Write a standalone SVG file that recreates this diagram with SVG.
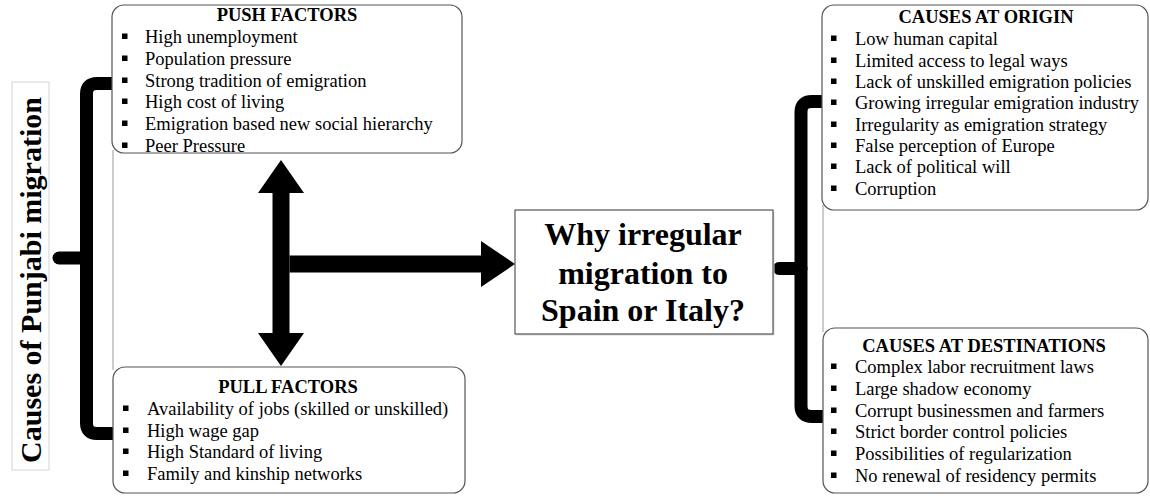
<svg xmlns="http://www.w3.org/2000/svg" width="1150" height="496" viewBox="0 0 1150 496">
<style>
text{font-family:"Liberation Serif","Times New Roman",serif;fill:#000}
.t{font-size:18.5px;font-weight:bold;text-anchor:middle}
.b{font-size:18.5px}
.box{fill:#fff;stroke:#555;stroke-width:1.2}
.bul{fill:#000}
.brace{fill:none;stroke:#000;stroke-width:13;stroke-linejoin:round}
.thin{stroke:#999;stroke-width:1}
</style>
<defs>
<rect id="sq" width="5.5" height="5.5" class="bul"/>
</defs>

<g id="title-vertical">
<rect x="12" y="82" width="37" height="388" fill="#fff" stroke="#d4d4d4" stroke-width="1"/>
<text transform="translate(41,280) rotate(-90)" style="font-size:30px;font-weight:bold;text-anchor:middle">Causes of Punjabi migration</text>
</g>

<g id="connectors">
<line class="thin" x1="113" y1="150" x2="113" y2="370"/>
<line class="thin" x1="823" y1="205" x2="823" y2="332"/>
<path class="brace" d="M113,83.5 H97 Q86.5,83.5 86.5,94 V423 Q86.5,433.5 97,433.5 H113"/>
<path class="brace" d="M86.5,258 H59" stroke-linecap="round"/>
<path class="brace" d="M823,101.5 H812 Q801,101.5 801,112 V406 Q801,416.5 812,416.5 H823"/>
<path class="brace" d="M801,268.5 H779" stroke-linecap="round"/>
<polygon fill="#000" points="281,160 304,193 289.5,193 289.5,333 304,333 281,366 258,333 272.5,333 272.5,193 258,193"/>
<polygon fill="#000" points="289.5,255.5 481,255.5 481,241 515,264 481,287 481,272.5 289.5,272.5"/>
</g>

<g id="push-factors">
<rect class="box" x="112" y="5" width="350" height="148" rx="12"/>
<text class="t" x="287" y="21">PUSH FACTORS</text>
<use href="#sq" x="122" y="33.5"/><text class="b" x="145" y="43">High unemployment</text>
<use href="#sq" x="122" y="55.5"/><text class="b" x="145" y="65">Population pressure</text>
<use href="#sq" x="122" y="77.5"/><text class="b" x="145" y="87">Strong tradition of emigration</text>
<use href="#sq" x="122" y="98.5"/><text class="b" x="145" y="108">High cost of living</text>
<use href="#sq" x="122" y="120.5"/><text class="b" x="145" y="130">Emigration based new social hierarchy</text>
<use href="#sq" x="122" y="142.5"/><text class="b" x="145" y="152">Peer Pressure</text>
</g>

<g id="pull-factors">
<rect class="box" x="113" y="367" width="352" height="126" rx="12"/>
<text class="t" x="288" y="393">PULL FACTORS</text>
<use href="#sq" x="123" y="405.5"/><text class="b" x="147" y="415">Availability of jobs (skilled or unskilled)</text>
<use href="#sq" x="123" y="427.5"/><text class="b" x="147" y="437">High wage gap</text>
<use href="#sq" x="123" y="448.5"/><text class="b" x="147" y="458">High Standard of living</text>
<use href="#sq" x="123" y="470.5"/><text class="b" x="147" y="480">Family and kinship networks</text>
</g>

<g id="center-question">
<rect x="516.5" y="211.5" width="258" height="124" fill="#d9d9d9"/>
<rect x="515" y="210" width="258" height="124" fill="#fff" stroke="#555" stroke-width="1.2"/>
<text x="643" y="245" style="font-size:32px;font-weight:bold;text-anchor:middle">Why irregular</text>
<text x="643" y="284" style="font-size:32px;font-weight:bold;text-anchor:middle">migration to</text>
<text x="643" y="321" style="font-size:32px;font-weight:bold;text-anchor:middle">Spain or Italy?</text>
</g>

<g id="causes-origin">
<rect class="box" x="822" y="5" width="326" height="205" rx="12"/>
<text class="t" x="986" y="23">CAUSES AT ORIGIN</text>
<use href="#sq" x="831" y="35.5"/><text class="b" x="855" y="45">Low human capital</text>
<use href="#sq" x="831" y="57.5"/><text class="b" x="855" y="67">Limited access to legal ways</text>
<use href="#sq" x="831" y="78.5"/><text class="b" x="855" y="88">Lack of unskilled emigration policies</text>
<use href="#sq" x="831" y="99.5"/><text class="b" x="855" y="109">Growing irregular emigration industry</text>
<use href="#sq" x="831" y="121.5"/><text class="b" x="855" y="131">Irregularity as emigration strategy</text>
<use href="#sq" x="831" y="142.5"/><text class="b" x="855" y="152">False perception of Europe</text>
<use href="#sq" x="831" y="163.5"/><text class="b" x="855" y="173">Lack of political will</text>
<use href="#sq" x="831" y="185.5"/><text class="b" x="855" y="195">Corruption</text>
</g>

<g id="causes-destinations">
<rect class="box" x="823" y="328" width="325" height="165" rx="12"/>
<text class="t" x="984" y="352">CAUSES AT DESTINATIONS</text>
<use href="#sq" x="831" y="363.5"/><text class="b" x="855" y="373">Complex labor recruitment laws</text>
<use href="#sq" x="831" y="385.5"/><text class="b" x="855" y="395">Large shadow economy</text>
<use href="#sq" x="831" y="407.5"/><text class="b" x="855" y="417">Corrupt businessmen and farmers</text>
<use href="#sq" x="831" y="428.5"/><text class="b" x="855" y="438">Strict border control policies</text>
<use href="#sq" x="831" y="450.5"/><text class="b" x="855" y="460">Possibilities of regularization</text>
<use href="#sq" x="831" y="472.5"/><text class="b" x="855" y="482">No renewal of residency permits</text>
</g>
</svg>
